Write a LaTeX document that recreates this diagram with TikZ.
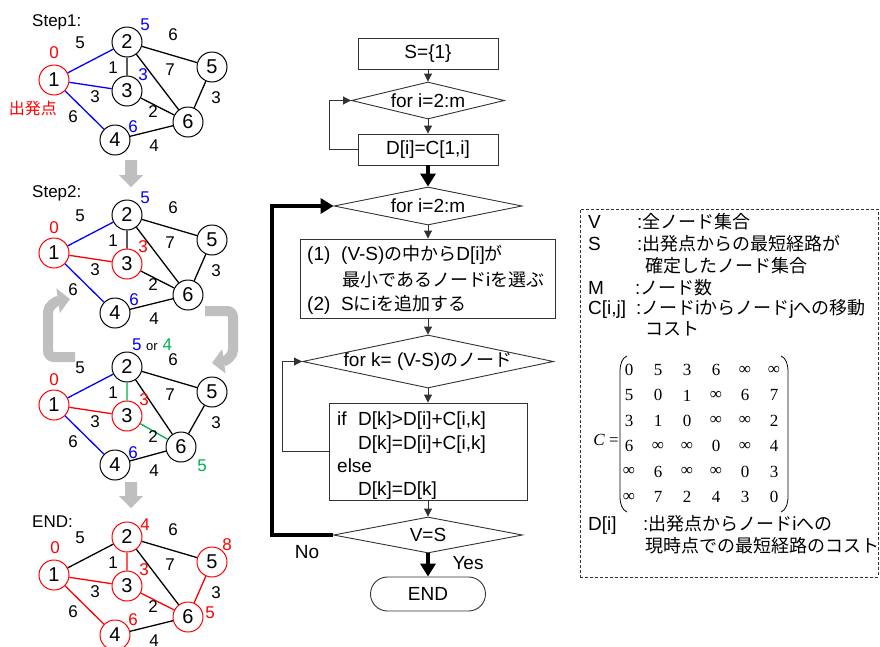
\documentclass[tikz,border=0pt]{standalone}
\usepackage{fontspec}
\setmainfont{Liberation Sans}
\newfontfamily\jp{Noto Sans CJK JP}
\newfontfamily\tms{Liberation Serif}
\usetikzlibrary{arrows.meta,shapes.geometric}
\definecolor{grn}{RGB}{0,176,80}
\definecolor{garr}{RGB}{191,191,191}
\definecolor{fline}{RGB}{50,50,50}
\newcommand\fs[1]{\fontsize{#1}{#1}\selectfont}
\newcommand\J[1]{{\jp\fontsize{18}{22}\selectfont #1}}
\newcommand\elabels[1]{%
 \node[el] (#1l12) at (80,43) {5};
 \node[el] (#1l25) at (173,35) {6};
 \node[el] (#1l23) at (113,68) {1};
 \node[el] (#1l26) at (170,70) {7};
 \node[el] (#1l13) at (95,97) {3};
 \node[el] (#1l36) at (153,112) {2};
 \node[el] (#1l56) at (216,98) {3};
 \node[el] (#1l14) at (73,117) {6};
 \node[el] (#1l46) at (154,146) {4};
}
\begin{document}
\begin{tikzpicture}[x=1pt,y=-1pt,
 gn/.style={circle,draw=black,line width=1pt,minimum size=30pt,inner sep=0pt,font=\fs{20}},
 rn/.style={gn,draw=red},
 el/.style={inner sep=0pt,font=\fs{17}},
 dl/.style={inner sep=0pt,font=\fs{17}},
 ge/.style={line width=1.3pt},
 ttl/.style={anchor=west,inner sep=0pt,font=\fs{17}},
 fb/.style={draw=fline,line width=0.9pt,inner sep=0pt,font=\fs{19}},
 fd/.style={diamond,draw=fline,line width=0.9pt,inner sep=-4pt,font=\fs{19}},
 ft/.style={anchor=base west,inner sep=0pt,font=\fs{19}},
 tarr/.style={draw=fline,line width=0.9pt,-{Triangle[length=8pt,width=8pt]}},
 karr/.style={line width=4.5pt,-{Triangle[length=13pt,width=15pt]}},
 gbr/.style={draw=garr,line width=10pt,-{Triangle[length=12pt,width=24pt]}},
 mx/.style={inner sep=0pt,font=\tms\fs{17}},
]
\fill[white] (0,0) rectangle (880,646);
\useasboundingbox (0,0) rectangle (880,646);

% ---------- Step1 ----------
\node[ttl] (s1t) at (32,22) {Step1:};
\node[rn] (a1) at (54,80) {1};
\node[gn] (a2) at (127,42) {2};
\node[gn] (a3) at (127,91) {3};
\node[gn] (a4) at (115,140) {4};
\node[gn] (a5) at (212,67) {5};
\node[gn] (a6) at (188,122) {6};
\draw[ge,blue] (a1)--(a2) (a1)--(a3) (a1)--(a4);
\draw[ge] (a2)--(a3) (a2)--(a5) (a2)--(a6) (a3)--(a6) (a5)--(a6) (a4)--(a6);
\elabels{a}
\node[dl,red] (a0d) at (54,53) {0};
\node[dl,blue] (a2d) at (145,25) {5};
\node[dl,blue] (a3d) at (143,75) {3};
\node[dl,blue] (a4d) at (133,127) {6};
\node[inner sep=0pt,red,font=\jp\fs{16}] (start) at (33,108) {出発点};

\fill[garr] (125,160) -- (137,160) -- (137,175) -- (143,175) -- (131,187) -- (119,175) -- (125,175) -- cycle;

% ---------- Step2 ----------
\begin{scope}[shift={(0,173)}]
\node[ttl] (s2t) at (32,20) {Step2:};
\node[rn] (b1) at (54,80) {1};
\node[gn] (b2) at (127,42) {2};
\node[rn] (b3) at (127,91) {3};
\node[gn] (b4) at (115,140) {4};
\node[gn] (b5) at (212,67) {5};
\node[gn] (b6) at (188,122) {6};
\draw[ge,blue] (b1)--(b2) (b1)--(b4);
\draw[ge,red] (b1)--(b3);
\draw[ge] (b2)--(b3) (b2)--(b5) (b2)--(b6) (b3)--(b6) (b5)--(b6) (b4)--(b6);
\elabels{b}
\node[dl,red] (b0d) at (54,55) {0};
\node[dl,blue] (b2d) at (145,25) {5};
\node[dl,red] (b3d) at (143,74) {3};
\node[dl,blue] (b4d) at (134,127) {6};
\end{scope}

% cycle brackets
\draw[gbr,rounded corners=6pt] (75,357) -- (48,357) -- (48,318) .. controls (48,306) and (56,301) .. (70,299);
\draw[gbr,rounded corners=6pt] (205,311) -- (233,311) -- (233,344) .. controls (233,356) and (226,361) .. (212,363);

% ---------- Step3 ----------
\begin{scope}[shift={(0,325)}]
\node[rn] (c1) at (54,80) {1};
\node[gn] (c2) at (127,42) {2};
\node[rn] (c3) at (127,91) {3};
\node[gn] (c4) at (115,140) {4};
\node[gn] (c5) at (212,67) {5};
\node[gn] (c6) at (181,122) {6};
\draw[ge,blue] (c1)--(c2) (c1)--(c4);
\draw[ge,red] (c1)--(c3);
\draw[ge,grn] (c2)--(c3) (c3)--(c6);
\draw[ge] (c2)--(c5) (c2)--(c6) (c5)--(c6) (c4)--(c6);
\elabels{c}
\node[dl,red] (c0d) at (54,55) {0};
\node[dl] (c2d) at (152,20) {{\color{blue}5} {\fs{13}or} {\color{grn}4}};
\node[dl,red] (c3d) at (144,75) {3};
\node[dl,blue] (c4d) at (133,128) {6};
\node[dl,grn] (c6d) at (202,141) {5};
\end{scope}

\fill[garr] (125,482) -- (137,482) -- (137,496) -- (143,496) -- (131,508) -- (119,496) -- (125,496) -- cycle;

% ---------- END ----------
\begin{scope}[shift={(0,495)}]
\node[ttl] (s4t) at (32,27) {END:};
\node[rn] (d1) at (54,80) {1};
\node[rn] (d2) at (127,42) {2};
\node[rn] (d3) at (127,91) {3};
\node[rn] (d4) at (115,140) {4};
\node[rn] (d5) at (212,67) {5};
\node[rn] (d6) at (188,122) {6};
\draw[ge,red] (d1)--(d3) (d1)--(d4) (d2)--(d3) (d3)--(d6) (d5)--(d6);
\draw[ge] (d1)--(d2) (d2)--(d5) (d2)--(d6) (d4)--(d6);
\elabels{d}
\node[dl,red] (d0d) at (55,53) {0};
\node[dl,red] (d2d) at (145,30) {4};
\node[dl,red] (d3d) at (144,75) {3};
\node[dl,red] (d5d) at (227,50) {8};
\node[dl,red] (d6d) at (210,118) {5};
\node[dl,red] (d4d) at (133,125) {6};
\end{scope}

% ---------- Flowchart ----------
\node[fb,minimum width=140pt,minimum height=31pt] (fs) at (428,53.5) {S=\{1\}};
\node[fd,minimum width=153pt,minimum height=37pt,aspect=4.1] (fd1) at (428,100.5) {for i=2:m};
\node[fb,minimum width=140pt,minimum height=31pt] (fb2) at (428,149.5) {D[i]=C[1,i]};
\node[fd,minimum width=188pt,minimum height=38pt,aspect=4.9] (fd2) at (428,206) {for i=2:m};
\node[fb,minimum width=255pt,minimum height=79pt] (fb3) at (428,278.5) {};
\node[fd,minimum width=251pt,minimum height=53pt,aspect=4.7] (fd3) at (428,361.5) {for k= (V-S)\J{のノード}};
\node[fb,minimum width=198pt,minimum height=97pt] (fb4) at (428,451.5) {};
\node[fd,minimum width=189pt,minimum height=36pt,aspect=5.25] (fd4) at (428,535) {V=S};
\node[fb,rounded corners=17pt,minimum width=115pt,minimum height=34pt] (fend) at (428,594) {END};

\node[ft] (t1a) at (307,260) {(1)};
\node[ft] (t1b) at (341,260) {(V-S)\J{の中から}D[i]\J{が}};
\node[ft] (t1c) at (342,286) {\J{最小であるノード}i\J{を選ぶ}};
\node[ft] (t2a) at (307,310) {(2)};
\node[ft] (t2b) at (341,310) {S\J{に}i\J{を追加する}};

\node[ft] (u1) at (337,425) {if};
\node[ft] (u2) at (358,425) {D[k]>D[i]+C[i,k]};
\node[ft] (u3) at (358,449) {D[k]=D[i]+C[i,k]};
\node[ft] (u4) at (337,472) {else};
\node[ft] (u5) at (358,495) {D[k]=D[k]};

\draw[tarr] (fs.south) -- (fd1.north);
\draw[tarr] (fd1.south) -- (fb2.north);
\draw[tarr] (fb2.west) -- ++(-28,0) |- (fd1.west);
\draw[karr] (fb2.south) -- (fd2.north);
\draw[tarr] (fd2.south) -- (fb3.north);
\draw[tarr] (fb3.south) -- (fd3.north);
\draw[tarr] (fd3.south) -- (fb4.north);
\draw[tarr] (fb4.west) -- ++(-46,0) |- (fd3.west);
\draw[tarr] (fb4.south) -- (fd4.north);
\draw[karr] (fd4.west) -- ++(-61,0) |- (fd2.west);
\draw[karr] (fd4.south) -- (fend.north);
\node[inner sep=0pt,font=\fs{19}] (no) at (307,552) {No};
\node[inner sep=0pt,font=\fs{19}] (yes) at (468,563) {Yes};

% ---------- Legend ----------
\node[draw=fline,dash pattern=on 3pt off 2pt,line width=0.8pt,minimum width=298pt,minimum height=368pt,inner sep=0pt] (leg) at (729,393) {};
\node[ft] (lv) at (588,228) {V};
\node[ft] (lvt) at (637,228) {:\J{全ノード集合}};
\node[ft] (ls) at (588,250) {S};
\node[ft] (lst) at (637,250) {:\J{出発点からの最短経路が}};
\node[ft] (lst2) at (645,272) {\J{確定したノード集合}};
\node[ft] (lm) at (588,294) {M};
\node[ft] (lmt) at (635,294) {:\J{ノード数}};
\node[ft] (lc) at (588,314) {C[i,j]};
\node[ft] (lct) at (636,314) {:\J{ノード}i\J{からノード}j\J{への移動}};
\node[ft] (lct2) at (645,335) {\J{コスト}};
\node[ft] (ld) at (588,530) {D[i]};
\node[ft] (ldt) at (643,530) {:\J{出発点からノード}i\J{への}};
\node[ft] (ldt2) at (645,552) {\J{現時点での最短経路のコスト}};

\node[mx] (ceq) at (606,440) {{\itshape C} =};
\foreach \row [count=\r] in {{0,5,3,6,∞,∞},{5,0,1,∞,6,7},{3,1,0,∞,∞,2},{6,∞,∞,0,∞,4},{∞,6,∞,∞,0,3},{∞,7,2,4,3,0}}{
  \foreach \v [count=\c] in \row {
    \node[mx] (m\r\c) at ({600+29*\c},{344.6+25.4*\r}) {\v};
  }
}
\draw[line width=0.8pt] (627,356) .. controls (622,358) and (620,364) .. (620,372) -- (620,496) .. controls (620,504) and (622,510) .. (627,512);
\draw[line width=0.8pt] (781,356) .. controls (786,358) and (788,364) .. (788,372) -- (788,496) .. controls (788,504) and (786,510) .. (781,512);
\end{tikzpicture}
\end{document}
